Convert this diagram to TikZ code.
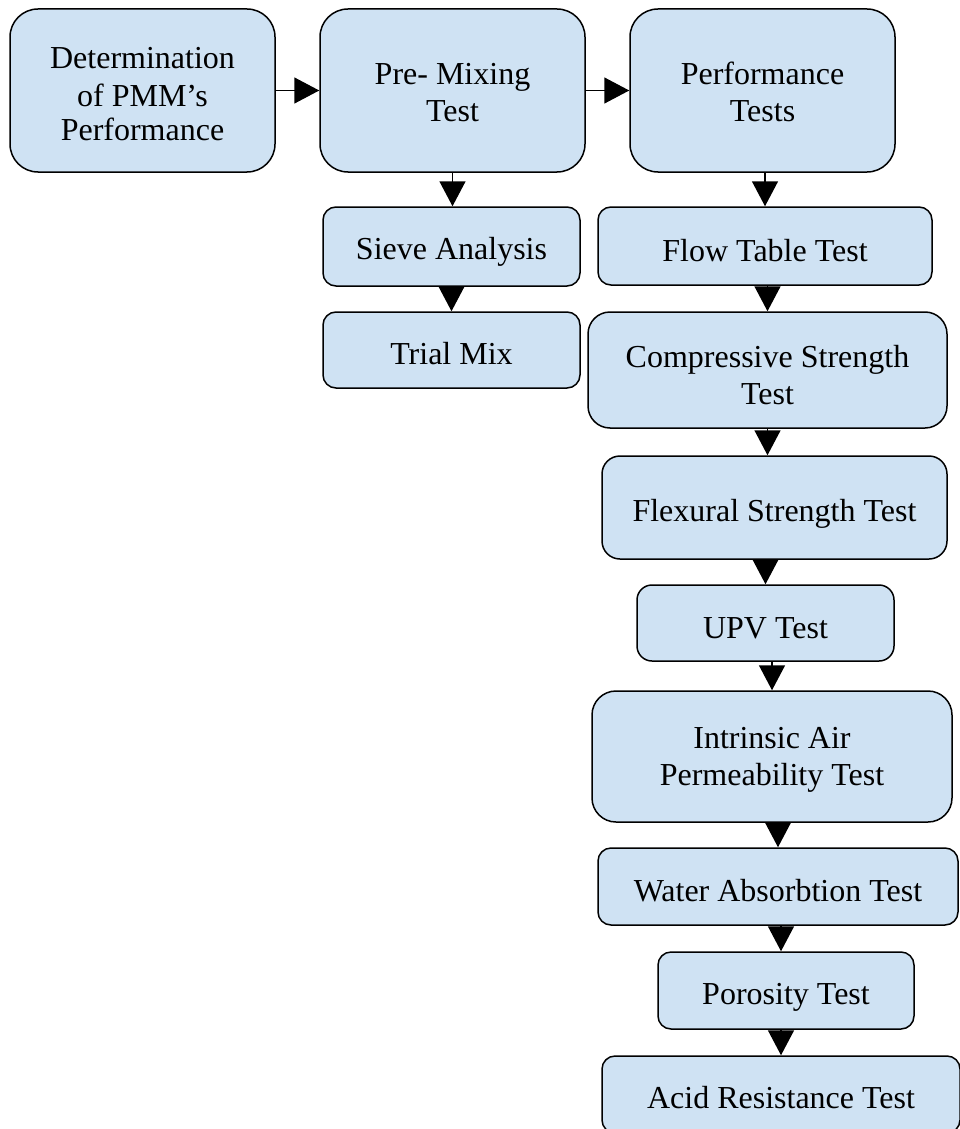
\documentclass[tikz,border=0pt]{standalone}
\usepackage{fontspec}
\setmainfont{Liberation Serif}
\usetikzlibrary{arrows.meta}
\definecolor{boxblue}{RGB}{207,226,243}
\newcommand\boxtext[2][-7pt]{\raisebox{#1}[\height][\depth]{\begin{tabular}{@{}c@{}}#2\end{tabular}}}
\begin{document}
\begin{tikzpicture}[x=1pt,y=-1pt,
  tbox/.style={draw=black, line width=1.5pt, fill=boxblue, rounded corners=#1,
    inner sep=0pt, align=center, text=black,
    font=\fontsize{32}{37}\selectfont},
  tbox/.default=14pt,
  conn/.style={line width=1.5pt, -{Triangle[width=26pt,length=25pt]}}]
\useasboundingbox (0,0) rectangle (960,1129);
\clip (0,0) rectangle (960,1129);
\node[tbox=28pt, minimum width=265pt, minimum height=163pt] (b1) at (142.5,90.5) {\boxtext[-7pt]{Determination\\[1pt]of PMM’s\\[-3pt]Performance}};
\node[tbox=28pt, minimum width=265pt, minimum height=163pt] (b2) at (452.5,90.5) {\boxtext[-5pt]{Pre- Mixing\\Test}};
\node[tbox=28pt, minimum width=265pt, minimum height=163pt] (b3) at (762.5,90.5) {\boxtext[-5pt]{Performance\\Tests}};
\node[tbox=13pt, minimum width=257pt, minimum height=79pt] (sieve) at (451.5,246.5) {\boxtext[-6pt]{Sieve Analysis}};
\node[tbox=13pt, minimum width=257pt, minimum height=76pt] (trial) at (451.5,350) {\boxtext{Trial Mix}};
\node[tbox=13pt, minimum width=334pt, minimum height=78pt] (flow) at (765,246) {\boxtext[-8pt]{Flow Table Test}};
\node[tbox=22pt, minimum width=359pt, minimum height=116pt] (compr) at (767.5,370) {\boxtext[-8.5pt]{Compressive Strength\\Test}};
\node[tbox=18pt, minimum width=345pt, minimum height=103pt] (flex) at (774.5,507.5) {\boxtext[-6.5pt]{Flexural Strength Test}};
\node[tbox=15pt, minimum width=257pt, minimum height=76pt] (upv) at (765.5,623) {\boxtext[-8.5pt]{UPV Test}};
\node[tbox=24pt, minimum width=360pt, minimum height=131pt] (intr) at (772,756.5) {\boxtext[-3.5pt]{Intrinsic Air\\Permeability Test}};
\node[tbox=13pt, minimum width=360pt, minimum height=77pt] (water) at (778,886.5) {\boxtext[-8pt]{Water Absorbtion Test}};
\node[tbox=13pt, minimum width=256pt, minimum height=77pt] (por) at (786,990.5) {\boxtext{Porosity Test}};
\node[tbox=13pt, minimum width=358pt, minimum height=77pt] (acid) at (781,1094.5) {\boxtext{Acid Resistance Test}};
\draw[conn] (b1.east) -- (b2.west);
\draw[conn] (b2.east) -- (b3.west);
\draw[conn] (b2.south) -- (b2.south |- sieve.north);
\draw[conn] (sieve.south) -- (trial.north);
\draw[conn] (b3.south -| flow.north) -- (flow.north);
\draw[conn] (flow.south -| compr.north) -- (compr.north);
\draw[conn] (compr.south) -- (compr.south |- flex.north);
\draw[conn] (flex.south -| upv.north) -- (upv.north);
\draw[conn] (upv.south -| intr.north) -- (intr.north);
\draw[conn] (intr.south -| water.north) -- (water.north);
\draw[conn] (water.south -| acid.north) -- (por.north -| acid.north);
\draw[conn] (por.south -| acid.north) -- (acid.north);
\end{tikzpicture}
\end{document}
